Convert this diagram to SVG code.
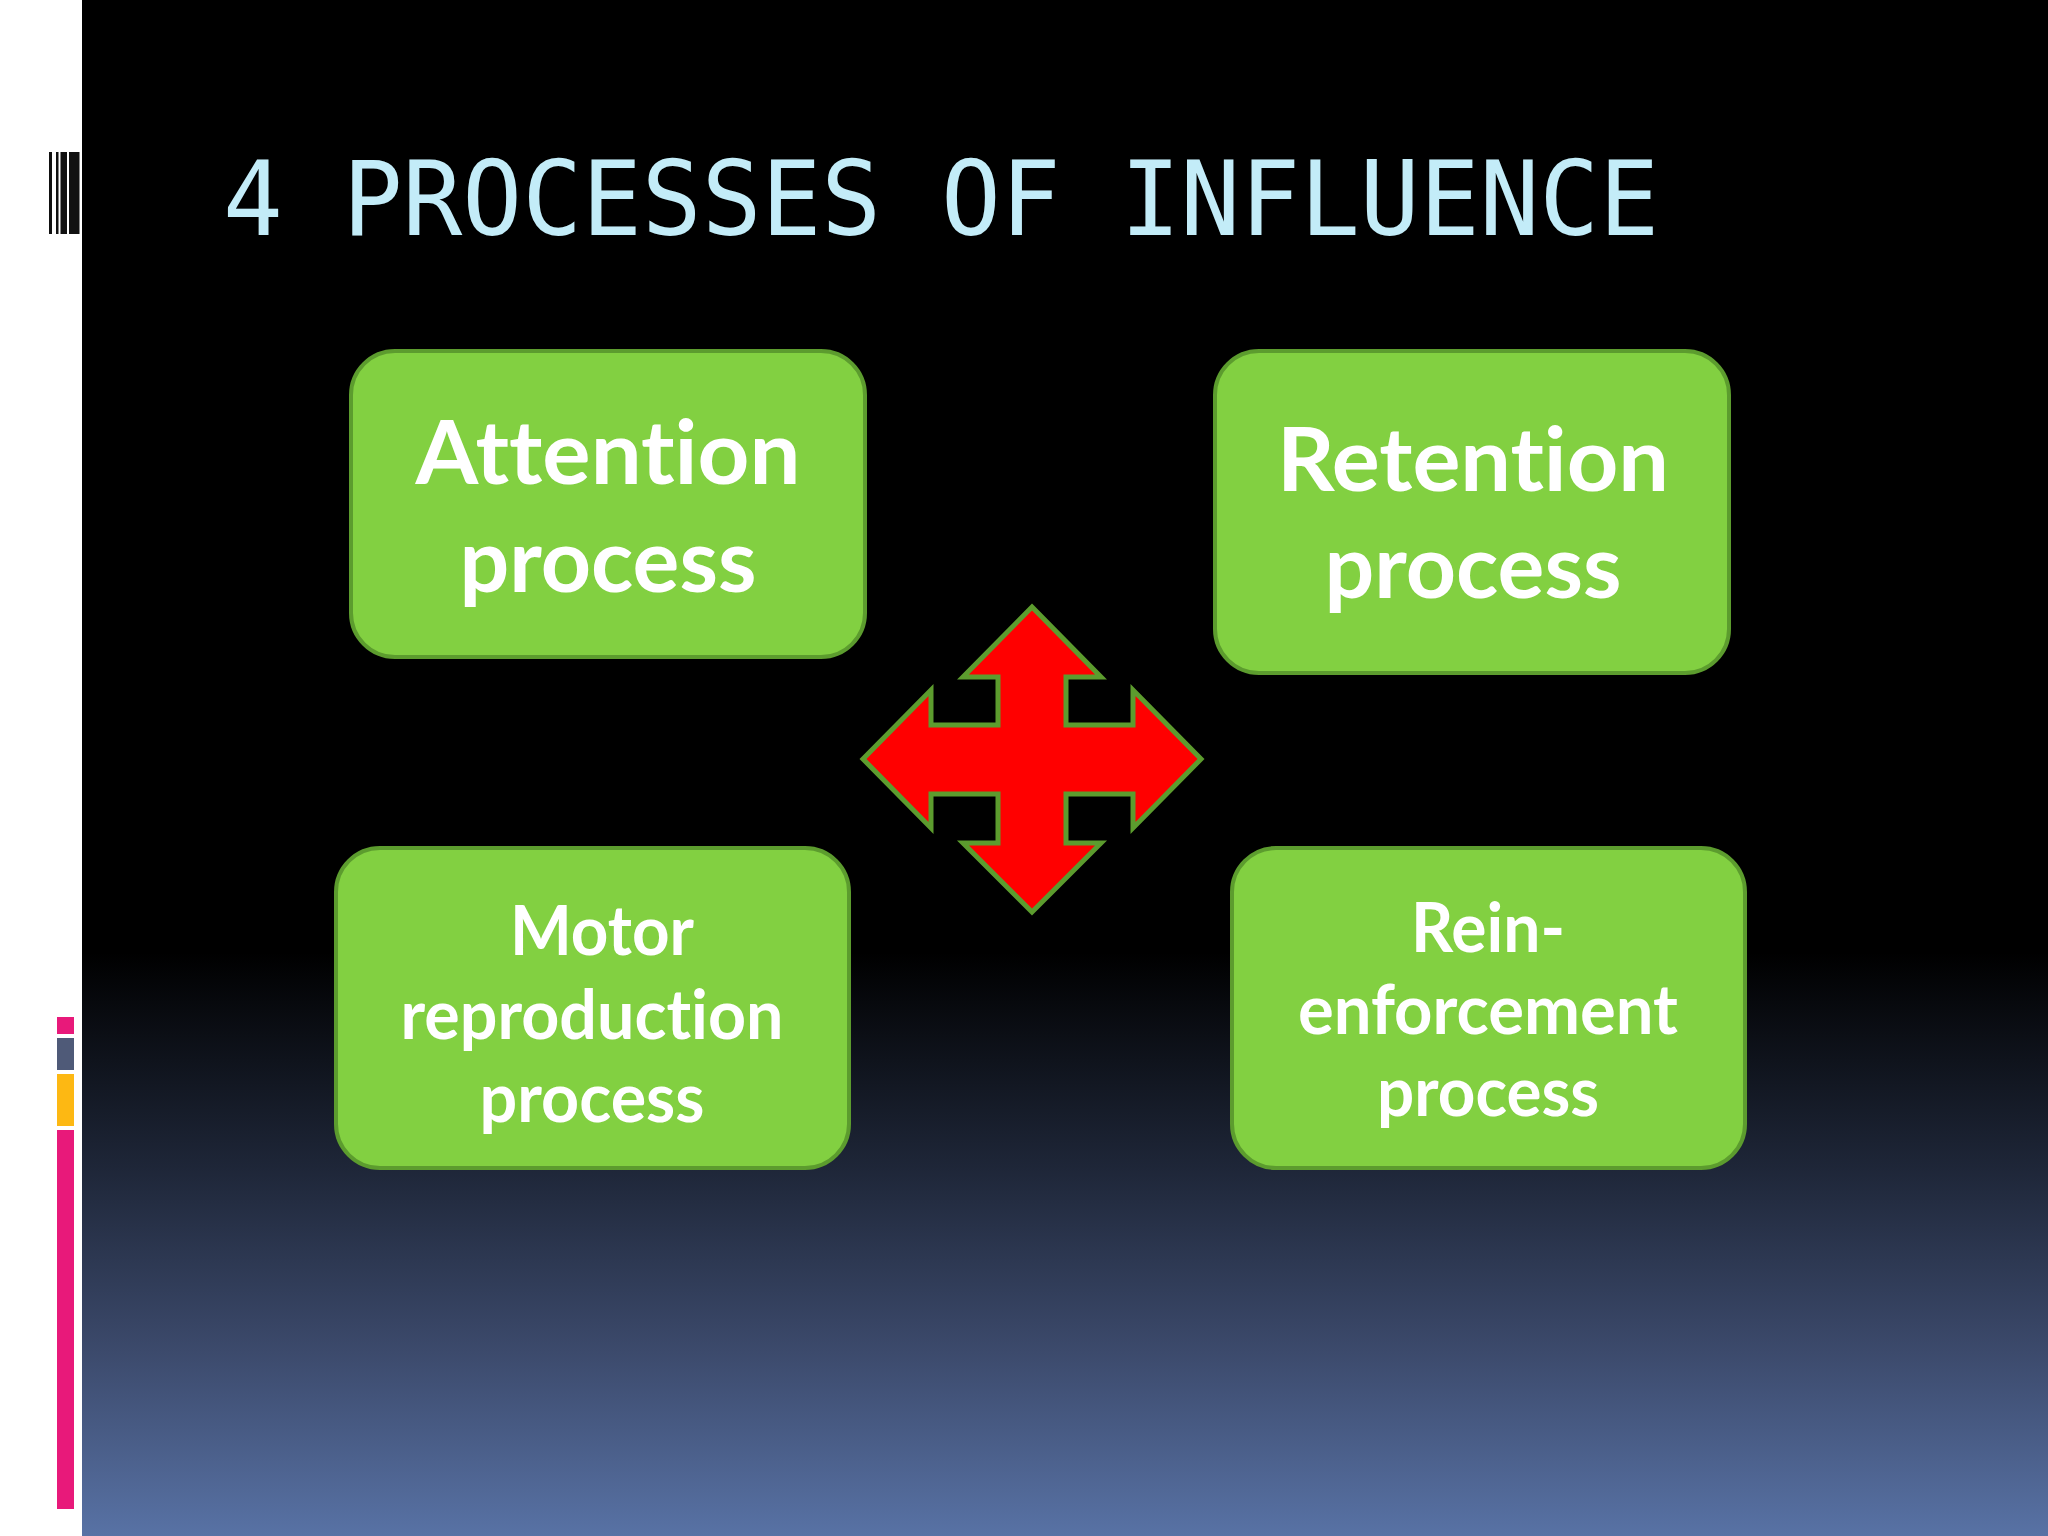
<svg xmlns="http://www.w3.org/2000/svg" width="2048" height="1536" viewBox="0 0 2048 1536">
<defs>
<linearGradient id="bg" x1="0" y1="0" x2="0" y2="1">
<stop offset="0" stop-color="#000000"/>
<stop offset="0.62" stop-color="#000000"/>
<stop offset="0.76" stop-color="#1e2638"/>
<stop offset="0.88" stop-color="#3c4a6c"/>
<stop offset="1" stop-color="#5872a5"/>
</linearGradient>
<style>
.box{fill:#82d041;stroke:#5c9c2e;stroke-width:4}
.lbl{font-family:Lato,"Open Sans","Liberation Sans",sans-serif;font-weight:700;fill:#ffffff;text-anchor:middle;font-variant-ligatures:none;font-feature-settings:"liga" 0,"clig" 0}
.big{font-size:88px}
.small{font-size:68px}
.title{font-family:"DejaVu Sans Mono","Liberation Mono",monospace;font-size:104px;fill:#c3ecf8}
</style>
</defs>
<rect x="0" y="0" width="2048" height="1536" fill="#ffffff"/>
<rect x="82" y="0" width="1966" height="1536" fill="url(#bg)"/>
<g id="barcode" fill="#111111">
<rect x="49" y="152" width="3" height="82"/>
<rect x="56" y="152" width="2.5" height="82"/>
<rect x="60.5" y="152" width="6.5" height="82"/>
<rect x="69" y="152" width="10.5" height="82"/>
</g>
<g id="sidebar">
<rect x="57" y="1017" width="17" height="17" fill="#e8197a"/>
<rect x="57" y="1038" width="17" height="32" fill="#4f5a78"/>
<rect x="57" y="1074" width="17" height="52" fill="#fdb813"/>
<rect x="57" y="1130" width="17" height="379" fill="#e8197a"/>
</g>
<text id="title" class="title" x="223" y="235" textLength="1436" lengthAdjust="spacingAndGlyphs">4 PROCESSES OF INFLUENCE</text>
<g id="connectors">
<polygon id="quad-arrow" fill="#ff0000" stroke="#5c9c2e" stroke-width="5" stroke-linejoin="miter" points="1032,607 1101,677 1066,677 1066,725 1133,725 1133,690 1201,759 1133,828 1133,794 1066,794 1066,843 1101,843 1032,912 963,843 998,843 998,794 931,794 931,828 863,759 931,690 931,725 998,725 998,677 963,677"/>
</g>
<g id="node-attention">
<rect class="box" x="351" y="351" width="514" height="306" rx="44" ry="44"/>
<text class="lbl big" x="608" y="484" textLength="385" lengthAdjust="spacingAndGlyphs">Attention</text>
<text class="lbl big" x="608" y="592" textLength="297" lengthAdjust="spacingAndGlyphs">process</text>
</g>
<g id="node-retention">
<rect class="box" x="1215" y="351" width="514" height="322" rx="44" ry="44"/>
<text class="lbl big" x="1473" y="491" textLength="392" lengthAdjust="spacingAndGlyphs">Retention</text>
<text class="lbl big" x="1473" y="598" textLength="297" lengthAdjust="spacingAndGlyphs">process</text>
</g>
<g id="node-motor">
<rect class="box" x="336" y="848" width="513" height="320" rx="44" ry="44"/>
<text class="lbl small" x="602" y="955" textLength="184" lengthAdjust="spacingAndGlyphs">Motor</text>
<text class="lbl small" x="592" y="1039" textLength="383" lengthAdjust="spacingAndGlyphs">reproduction</text>
<text class="lbl small" x="592" y="1122" textLength="225" lengthAdjust="spacingAndGlyphs">process</text>
</g>
<g id="node-reinforcement">
<rect class="box" x="1232" y="848" width="513" height="320" rx="44" ry="44"/>
<text class="lbl small" x="1488" y="952" textLength="154" lengthAdjust="spacingAndGlyphs">Rein-</text>
<text class="lbl small" x="1488" y="1034" textLength="380" lengthAdjust="spacingAndGlyphs">enforcement</text>
<text class="lbl small" x="1488" y="1116" textLength="222" lengthAdjust="spacingAndGlyphs">process</text>
</g>
</svg>
